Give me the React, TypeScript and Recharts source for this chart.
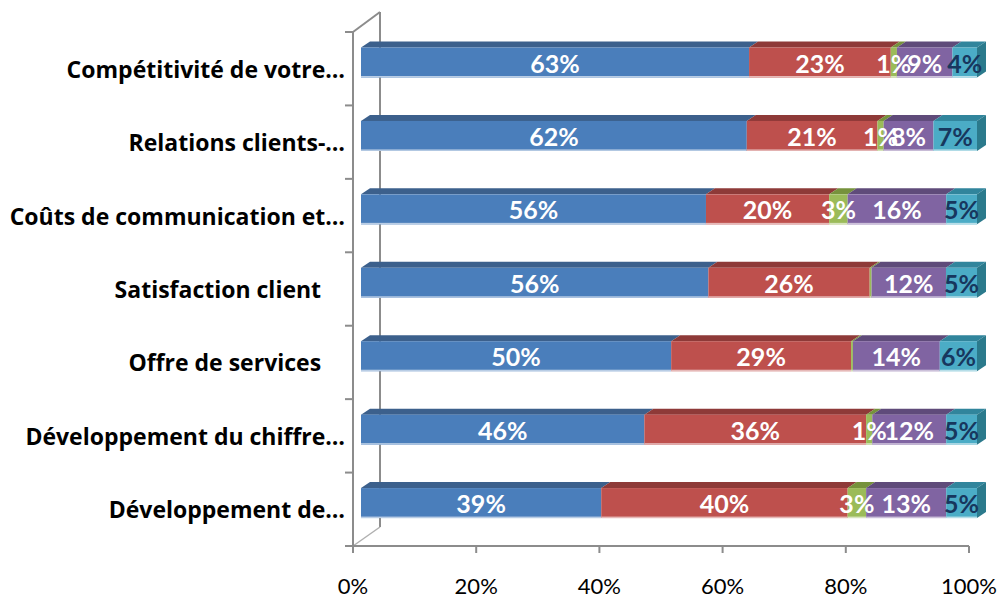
import React from "react";
import { BarChart, Bar, XAxis, YAxis, LabelList, Customized } from "recharts";

document.body.style.margin = "0";

const categories = [
  "Compétitivité de votre…",
  "Relations clients-…",
  "Coûts de communication et…",
  "Satisfaction client    ",
  "Offre de services    ",
  "Développement du chiffre…",
  "Développement de…",
];
const blueSeries = [63, 62, 56, 56, 50, 46, 39];
const redSeries = [23, 21, 20, 26, 29, 36, 40];
const greenSeries = [1, 1, 3, 0.3, 0.3, 1, 3];
const purpleSeries = [9, 8, 16, 12, 14, 12, 13];
const tealSeries = [4, 7, 5, 5, 6, 5, 5];
const xTicks = [0, 0.2, 0.4, 0.6, 0.8, 1];

const data = categories.map((name, i) => ({
  name,
  s1: blueSeries[i],
  s2: redSeries[i],
  s3: greenSeries[i],
  s4: purpleSeries[i],
  s5: tealSeries[i],
}));

const series = [
  { key: "s1", front: "#4A7EBB", top: "#3C608C", side: "#3C608C", edge: "#B9CDE5", text: "#ffffff" },
  { key: "s2", front: "#BE504D", top: "#8E3A38", side: "#8E3A38", edge: "#E6B9B8", text: "#ffffff" },
  { key: "s3", front: "#9BBB59", top: "#76923C", side: "#76923C", edge: "#D7E4BD", text: "#ffffff" },
  { key: "s4", front: "#8064A2", top: "#5F4B7A", side: "#5F4B7A", edge: "#CCC1DA", text: "#ffffff" },
  { key: "s5", front: "#4BACC6", top: "#31859C", side: "#2B7A8C", edge: "#B7DEE8", text: "#17375E" },
];

// chart geometry
const W = 1002;
const H = 598;
const PLOT_LEFT = 353;
const PLOT_TOP = 32;
const PLOT_RIGHT = 969;
const PLOT_BOTTOM = 546;
const BAND = (PLOT_BOTTOM - PLOT_TOP) / categories.length;

// 3d offsets
const DX = 8;
const DY = -6.5;
const DEPTH_X = 9;
const DEPTH_Y = 6;

const AXIS = "#8C8C8C";
const FONT = "Lato, 'Open Sans', sans-serif";
const LABEL_FONT = "'Open Sans', Lato, sans-serif";

const Box3D = (props: any) => {
  const { x, y, width, height, colors, last } = props;
  if (width == null || height == null || width < 0) return null;
  const fx = x + DX;
  const fy = y + DY;
  const topPts = `${fx},${fy} ${fx + width},${fy} ${fx + width + DEPTH_X},${fy - DEPTH_Y} ${fx + DEPTH_X},${fy - DEPTH_Y}`;
  const sidePts = `${fx + width},${fy} ${fx + width + DEPTH_X},${fy - DEPTH_Y} ${fx + width + DEPTH_X},${fy + height - DEPTH_Y} ${fx + width},${fy + height}`;
  return (
    <g>
      <polygon points={topPts} fill={colors.top} />
      {last && <polygon points={sidePts} fill={colors.side} />}
      <rect x={fx} y={fy} width={width} height={height} fill={colors.front} />
      <rect x={fx} y={fy + height - 1.5} width={width} height={1.5} fill={colors.edge} />
    </g>
  );
};

const renderLabel = (color: string) => (p: any) => {
  const vb = p.viewBox || p;
  const value = Number(p.value);
  if (!isFinite(value) || value < 0.5) return null;
  return (
    <text
      x={vb.x + DX + vb.width / 2}
      y={vb.y + DY + vb.height / 2}
      fill={color}
      textAnchor="middle"
      dominantBaseline="central"
      fontFamily={FONT}
      fontWeight="bold"
      fontSize={25}
    >
      {value}%
    </text>
  );
};

const CategoryTick = (props: any) => {
  const { y, payload, index } = props;
  return (
    <g>
      <line x1={PLOT_LEFT - 8} x2={PLOT_LEFT} y1={y - BAND / 2} y2={y - BAND / 2} stroke={AXIS} strokeWidth={2} />
      {index === categories.length - 1 && (
        <line x1={PLOT_LEFT - 8} x2={PLOT_LEFT} y1={y + BAND / 2} y2={y + BAND / 2} stroke={AXIS} strokeWidth={2} />
      )}
      <text
        x={PLOT_LEFT - 8}
        y={y}
        textAnchor="end"
        dominantBaseline="central"
        fontFamily={LABEL_FONT}
        fontWeight="bold"
        fontSize={23}
        fill="#000"
        style={{ whiteSpace: "pre" }}
      >
        {payload.value}
      </text>
    </g>
  );
};

// back wall of the 3d plot
const Walls = () => {
  const bx = PLOT_LEFT + 27;
  const by = PLOT_TOP - 20;
  return (
    <g>
      <line x1={bx} x2={bx} y1={by} y2={PLOT_BOTTOM - 19} stroke={AXIS} strokeWidth={2} />
      <line x1={PLOT_LEFT} y1={PLOT_TOP} x2={bx} y2={by} stroke={AXIS} strokeWidth={2} />
      <line x1={PLOT_LEFT} y1={PLOT_BOTTOM} x2={bx} y2={PLOT_BOTTOM - 19} stroke="#B0B0B0" strokeWidth={1.5} />
    </g>
  );
};

export default function App() {
  return (
    <div style={{ width: W, height: H, background: "#fff" }}>
      <BarChart
        width={W}
        height={H}
        data={data}
        layout="vertical"
        stackOffset="expand"
        barSize={30}
        margin={{ top: PLOT_TOP, right: W - PLOT_RIGHT, bottom: 12, left: 13 }}
      >
        <Customized component={Walls} />
        <XAxis
          type="number"
          domain={[0, 1]}
          ticks={xTicks}
          tickFormatter={(v: number) => `${Math.round(v * 100)}%`}
          axisLine={{ stroke: AXIS, strokeWidth: 2 }}
          tickLine={{ stroke: AXIS, strokeWidth: 2 }}
          tickSize={7}
          tickMargin={25}
          height={40}
          tick={{ fontFamily: FONT, fontSize: 22, fill: "#000" }}
        />
        <YAxis
          type="category"
          dataKey="name"
          width={340}
          axisLine={{ stroke: AXIS, strokeWidth: 2 }}
          tickLine={false}
          tick={<CategoryTick />}
          interval={0}
        />
        {series.map((s, i) => (
          <Bar
            key={s.key}
            dataKey={s.key}
            stackId="a"
            isAnimationActive={false}
            shape={(p: any) => <Box3D {...p} colors={s} last={i === series.length - 1} />}
          >
            <LabelList dataKey={s.key} content={renderLabel(s.text)} />
          </Bar>
        ))}
      </BarChart>
    </div>
  );
}
